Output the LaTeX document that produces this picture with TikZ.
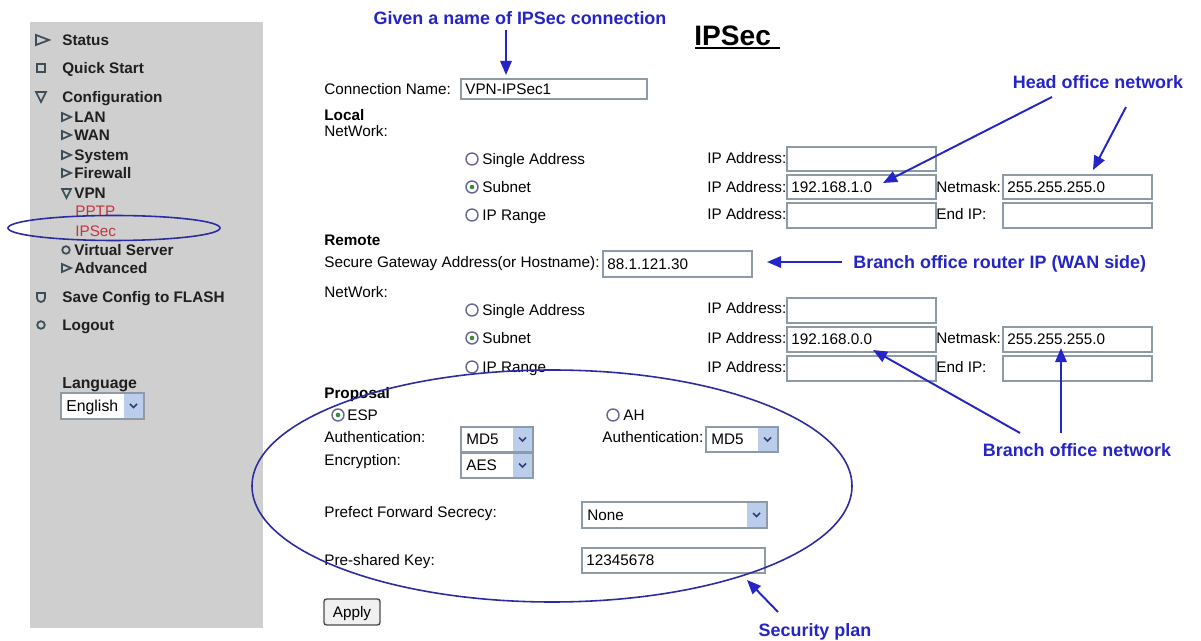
\documentclass[tikz,border=0pt]{standalone}
\usepackage{fontspec}
\setmainfont{Liberation Sans}
\usepackage{tikz}
\usetikzlibrary{positioning,shapes,arrows.meta}
\definecolor{annblue}{HTML}{2424C8}
\definecolor{sidegray}{HTML}{CFCFCF}
\definecolor{boxline}{HTML}{8E9BA7}
\definecolor{dropblue}{HTML}{BACDEB}
\definecolor{linkred}{HTML}{C8323C}
\definecolor{ringblue}{HTML}{2B2BA2}
\definecolor{icongray}{HTML}{3E4E58}
\tikzstyle{lbl}=[anchor=west, inner sep=0, text height=6.2pt, text depth=0pt, font=\fontsize{8.7}{10}\selectfont, text=black]
\tikzstyle{head}=[lbl, font=\fontsize{8.7}{10}\selectfont\bfseries]
\tikzstyle{menu}=[lbl, font=\fontsize{8.7}{10}\selectfont\bfseries, text=black!88]
\tikzstyle{field}=[draw=boxline, fill=white, line width=0.6pt]
\tikzstyle{chev}=[draw=icongray!80!blue, line width=0.9pt]
\tikzstyle{icon}=[draw=icongray, line width=1pt]
\tikzstyle{note}=[inner sep=0, text height=7.4pt, text depth=0pt, font=\fontsize{10.2}{12}\selectfont\bfseries, text=annblue]
\tikzstyle{pointer}=[draw=annblue, line width=1.1pt, -{Triangle[length=8pt,width=6.5pt]}]
\tikzstyle{ring}=[draw=ringblue, line width=0.9pt]
% form widgets: name, x1, y1, x2, y2, text
\newcommand{\formbox}[6]{%
  \draw[field] (#2,#3) rectangle (#4,#5);
  \node (#1) [lbl] at ({#2+4},{(#3+#5)/2}) {#6};}
% drop-down list: name, x1, y1, x2, y2, text (arrow part is 20 wide)
\newcommand{\dropbox}[6]{%
  \draw[field] (#2,#3) rectangle (#4,#5);
  \fill[dropblue] ({#4-20},{#3+1}) rectangle ({#4-1},{#5-1});
  \draw[chev] ({#4-14},{(#3+#5)/2-2}) -- ({#4-10.5},{(#3+#5)/2+1.5}) -- ({#4-7},{(#3+#5)/2-2});
  \node (#1) [lbl] at ({#2+5},{(#3+#5)/2}) {#6};}
% radio button: x, y, selected (1/0)
\newcommand{\radiobtn}[3]{%
  \draw[draw=gray!80!blue, fill=white, line width=0.8pt] (#1,#2) circle (6);
  \ifnum#3=1 \fill[green!45!black!80] (#1,#2) circle (2.3); \fi}

\begin{document}
\begin{tikzpicture}[x=0.02cm, y=-0.02cm]
  \useasboundingbox[fill=white] (0,0) rectangle (1201,641);

  % side menu
  \fill[sidegray] (30,22) rectangle (263,628);
  \draw[icon] (36,35) -- (49,40) -- (36,45) -- cycle;
  \node (status) [menu] at (62,40) {Status};
  \draw[icon] (37,64) rectangle (45,72);
  \node (quick) [menu] at (62,68) {Quick Start};
  \draw[icon] (36,92) -- (46,92) -- (41,102) -- cycle;
  \node (config) [menu] at (62,97) {Configuration};
  \foreach \name/\yy/\txt in {lan/117/LAN, wan/135/WAN, system/155/System, firewall/173/Firewall, advanced/268/Advanced}{
    \draw[icon] (62,\yy-4) -- (71,\yy) -- (62,\yy+4) -- cycle;
    \node (\name) [menu] at (74,\yy) {\txt};
  }
  \draw[icon] (62,189) -- (71,189) -- (66.5,198) -- cycle;
  \node (vpn) [menu] at (74,193) {VPN};
  \node (pptp) [lbl, text=linkred] at (75,211) {PPTP};
  \node (ipsec) [lbl, text=linkred] at (75,231) {IPSec};
  \draw[icon] (66,250) circle (3.8);
  \node (virtual) [menu] at (74,250) {Virtual Server};
  \draw[icon] (37,293) -- (37,298) arc[start angle=180, end angle=0, radius=4] -- (45,293) -- cycle;
  \node (save) [menu] at (62,297) {Save Config to FLASH};
  \draw[icon] (41,325) circle (3.8);
  \node (logout) [menu] at (62,325) {Logout};
  \node (language) [menu, font=\fontsize{9}{10}\selectfont\bfseries] at (62,383) {Language};
  \dropbox{english}{61}{393}{144}{419}{\fontsize{9}{10}\selectfont English}
  \draw[ring] (114,228) ellipse [x radius=106, y radius=12.5];

  % page title
  \node (title) [inner sep=0, anchor=west, font=\fontsize{16}{17}\selectfont\bfseries] at (694,36) {IPSec};
  \draw[line width=1.3pt] (695,48) -- (780,48);

  % connection
  \node (connLbl) [lbl] at (324,89) {Connection Name:};
  \formbox{connName}{461}{79}{647}{99}{VPN-IPSec1}

  % local network
  \node (local) [head] at (324,115) {Local};
  \node (localNet) [lbl] at (324,131) {NetWork:};
  \radiobtn{472}{159}{0} \node (lSingle) [lbl] at (482,159) {Single Address};
  \radiobtn{472}{187}{1} \node (lSubnet) [lbl] at (482,187) {Subnet};
  \radiobtn{472}{215}{0} \node (lRange) [lbl] at (482,215) {IP Range};
  \node (lIpA) [lbl] at (707,158) {IP Address:};
  \formbox{lSingleIp}{787}{147}{936}{171}{}
  \node (lIpB) [lbl] at (707,187) {IP Address:};
  \formbox{lSubnetIp}{787}{175}{936}{199}{192.168.1.0}
  \node (lMask) [lbl] at (936,187) {Netmask:};
  \formbox{lSubnetMask}{1003}{175}{1152}{199}{255.255.255.0}
  \node (lIpC) [lbl] at (707,214) {IP Address:};
  \formbox{lRangeIp}{787}{203}{936}{228}{}
  \node (lEnd) [lbl] at (936,214) {End IP:};
  \formbox{lRangeEnd}{1003}{203}{1152}{228}{}

  % remote network
  \node (remote) [head] at (324,240) {Remote};
  \node (gwLbl) [lbl] at (324,262) {Secure Gateway Address(or Hostname):};
  \formbox{gateway}{603}{251}{752}{277}{88.1.121.30}
  \node (remoteNet) [lbl] at (324,292) {NetWork:};
  \radiobtn{472}{310}{0} \node (rSingle) [lbl] at (482,310) {Single Address};
  \radiobtn{472}{338}{1} \node (rSubnet) [lbl] at (482,338) {Subnet};
  \radiobtn{472}{367}{0} \node (rRange) [lbl] at (482,367) {IP Range};
  \node (rIpA) [lbl] at (707,308) {IP Address:};
  \formbox{rSingleIp}{787}{298}{936}{323}{}
  \node (rIpB) [lbl] at (707,338) {IP Address:};
  \formbox{rSubnetIp}{787}{327}{936}{352}{192.168.0.0}
  \node (rMask) [lbl] at (936,338) {Netmask:};
  \formbox{rSubnetMask}{1003}{327}{1152}{352}{255.255.255.0}
  \node (rIpC) [lbl] at (707,367) {IP Address:};
  \formbox{rRangeIp}{787}{356}{936}{381}{}
  \node (rEnd) [lbl] at (936,367) {End IP:};
  \formbox{rRangeEnd}{1003}{356}{1152}{381}{}

  % proposal
  \node (proposal) [head] at (324,393) {Proposal};
  \radiobtn{338}{415}{1} \node (esp) [lbl] at (347,415) {ESP};
  \radiobtn{613}{415}{0} \node (ah) [lbl] at (623,415) {AH};
  \node (espAuth) [lbl] at (324,437) {Authentication:};
  \dropbox{espAuthSel}{461}{427}{533}{452}{MD5}
  \node (espEnc) [lbl] at (324,460) {Encryption:};
  \dropbox{espEncSel}{461}{453}{533}{478}{AES}
  \node (ahAuth) [lbl] at (602,437) {Authentication:};
  \dropbox{ahAuthSel}{706}{427}{778}{452}{MD5}
  \node (pfs) [lbl] at (324,512) {Prefect Forward Secrecy:};
  \dropbox{pfsSel}{582}{502}{767}{528}{None}
  \node (psk) [lbl] at (324,560) {Pre-shared Key:};
  \formbox{pskBox}{582}{548}{765}{573}{12345678}
  \draw[draw=black!70, fill=black!6, line width=0.8pt, rounded corners=1.5pt] (324,599) rectangle (380,625);
  \node (apply) [lbl, anchor=center] at (352,612) {Apply};
  \draw[ring] (552,486) ellipse [x radius=300, y radius=116];

  % notes
  \node (given) [note] at (520,18) {Given a name of IPSec connection};
  \coordinate (givenTail) at (506,30);
  \coordinate (givenTip) at (506,75);
  \draw[pointer] (givenTail) -- (givenTip);

  \node (headNet) [note] at (1098,82) {Head office network};
  \coordinate (headTailA) at (1052,97);
  \coordinate (headTipA) at (883,183);
  \coordinate (headTailB) at (1126,107);
  \coordinate (headTipB) at (1093,170);
  \draw[pointer] (headTailA) -- (headTipA);
  \draw[pointer] (headTailB) -- (headTipB);

  \node (router) [note, anchor=west] at (853,262) {Branch office router IP (WAN side)};
  \coordinate (routerTip) at (767,262);
  \draw[pointer] ([xshift=-6pt]router.west) -- (routerTip);

  \node (branchNet) [note] at (1077,450) {Branch office network};
  \coordinate (branchTailA) at (1020,433);
  \coordinate (branchTipA) at (873,350);
  \coordinate (branchTailB) at (1061,433);
  \coordinate (branchTipB) at (1061,348);
  \draw[pointer] (branchTailA) -- (branchTipA);
  \draw[pointer] (branchTailB) -- (branchTipB);

  \node (secPlan) [note] at (815,630) {Security plan};
  \coordinate (secTail) at (778,612);
  \coordinate (secTip) at (747,580);
  \draw[pointer] (secTail) -- (secTip);
\end{tikzpicture}
\end{document}
